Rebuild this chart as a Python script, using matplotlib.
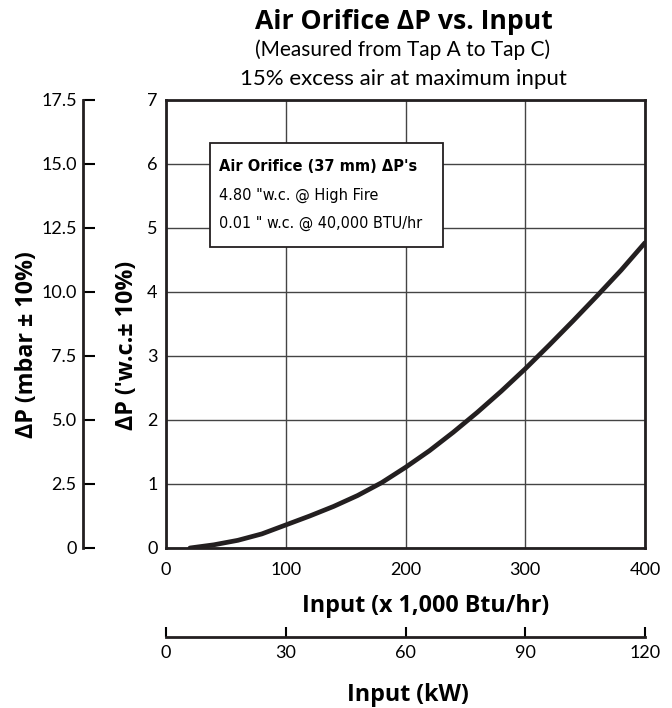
import os
import numpy as np
import matplotlib
matplotlib.use('Agg')
import matplotlib.pyplot as plt
from matplotlib import font_manager as fm
from matplotlib.patches import Rectangle

W, H = 672, 708

# 入力 (x 1,000 Btu/hr) と差圧 ("w.c.)
btu = [20, 40, 60, 80, 100, 120, 140, 160, 180, 200, 220, 240, 260, 280, 300, 320, 340, 360, 380, 400]
dp_wc = [0.0, 0.05, 0.12, 0.22, 0.36, 0.50, 0.65, 0.82, 1.02, 1.26, 1.52, 1.81, 2.12, 2.45,
         2.80, 3.17, 3.55, 3.94, 4.34, 4.77]

btu_ticks = [0, 100, 200, 300, 400]
wc_ticks = [0, 1, 2, 3, 4, 5, 6, 7]
mbar_ticks = [0, 2.5, 5.0, 7.5, 10.0, 12.5, 15.0, 17.5]
mbar_labels = ['0', '2.5', '5.0', '7.5', '10.0', '12.5', '15.0', '17.5']
kw_ticks = [0, 30, 60, 90, 120]

box_title = "Air Orifice (37 mm) ΔP's"
box_lines = ['4.80 "w.c. @ High Fire', '0.01 " w.c. @ 40,000 BTU/hr']

REG = ['Lato', 'DejaVu Sans']
BOLD = ['Open Sans', 'DejaVu Sans']
plt.rcParams['font.family'] = REG


def find_file(names):
    """インストール済みフォントからファイルを探す"""
    files = {os.path.basename(f.fname): f.fname for f in fm.fontManager.ttflist}
    for n in names:
        if n in files:
            return files[n]
    return None


# ボックス内は細長い書体 (無ければ通常書体)
nreg = find_file(['LiberationSansNarrow-Regular.ttf', 'NotoSans-Condensed.ttf',
                  'DejaVuSansCondensed.ttf', 'RobotoCondensed-Regular.ttf'])
nbold = find_file(['LiberationSansNarrow-Bold.ttf', 'NotoSans-CondensedBold.ttf',
                   'DejaVuSansCondensed-Bold.ttf', 'RobotoCondensed-Bold.ttf'])
fp_nreg = fm.FontProperties(fname=nreg) if nreg else fm.FontProperties(family=REG)
fp_nbold = fm.FontProperties(fname=nbold) if nbold else fm.FontProperties(family=REG, weight='bold')

fig = plt.figure(figsize=(W / 100, H / 100), dpi=100)


def px(x, y):
    """画像のピクセル座標 -> figure座標"""
    return x / W, 1 - y / H


def fit(t, target):
    """テキストの長さをピクセル幅に合わせる"""
    r = fig.canvas.get_renderer()
    for _ in range(3):
        bb = t.get_window_extent(r)
        t.set_fontsize(t.get_fontsize() * target / max(bb.width, bb.height))
    return t.get_fontsize()


L, R, T, B = 166, 645, 100, 548
ax = fig.add_axes([L / W, 1 - B / H, (R - L) / W, (B - T) / H])
ax.plot(btu, dp_wc, color='#231f20', lw=3.4, solid_capstyle='round')
ax.set_xlim(0, 400)
ax.set_ylim(0, 7)
ax.set_xticks(btu_ticks)
ax.set_yticks(wc_ticks)
ax.tick_params(length=0, labelsize=13)
ax.tick_params(axis='x', pad=10)
ax.tick_params(axis='y', pad=6)
ax.grid(True, color='#444444', lw=1)
for s in ax.spines.values():
    s.set_linewidth(2.0)
    s.set_color('#231f20')

# 注記ボックス
bx0, bx1, by0, by1 = 210, 443, 143, 247
ax.add_patch(Rectangle(((bx0 - L) / (R - L), (B - by1) / (B - T)),
                       (bx1 - bx0) / (R - L), (by1 - by0) / (B - T),
                       transform=ax.transAxes, facecolor='white',
                       edgecolor='#231f20', lw=1.3, zorder=5))
t = fig.text(*px(219, 171), box_title, fontproperties=fp_nbold, va='baseline', zorder=6)
t.set_fontsize(12)
fit(t, 198)
for txt, yb, w in zip(box_lines, [200, 228], [160, 203]):
    t = fig.text(*px(219, yb), txt, fontproperties=fp_nreg, va='baseline', zorder=6)
    t.set_fontsize(12)
    fit(t, w)

# mbar 軸
MX = 83
axm = fig.add_axes([MX / W, 1 - B / H, 0.0001, (B - T) / H])
axm.set_ylim(0, 17.5)
axm.set_yticks(mbar_ticks)
axm.set_yticklabels(mbar_labels)
axm.set_xticks([])
for k in ['top', 'right', 'bottom']:
    axm.spines[k].set_visible(False)
axm.spines['left'].set_linewidth(2.0)
axm.spines['left'].set_color('#231f20')
axm.tick_params(axis='y', direction='in', length=8.5, width=1.5, labelsize=13, pad=4.5)

# kW 軸
KY = 637
axk = fig.add_axes([L / W, 1 - KY / H, (R - L) / W, 0.0001])
axk.set_xlim(0, 120)
axk.set_xticks(kw_ticks)
axk.set_yticks([])
for k in ['top', 'right', 'left']:
    axk.spines[k].set_visible(False)
axk.spines['bottom'].set_linewidth(2.0)
axk.spines['bottom'].set_color('#231f20')
axk.tick_params(axis='x', direction='in', length=7, width=1.5, labelsize=13, pad=6)

# 軸ラベル (すべて同じ大きさ)
t = fig.text(*px(426, 612), 'Input (x 1,000 Btu/hr)', family=BOLD, fontweight='bold',
             fontsize=13, ha='center', va='baseline')
lab_size = fit(t, 247)
fig.text(*px(408, 701), 'Input (kW)', family=BOLD, fontweight='bold',
         fontsize=lab_size, ha='center', va='baseline')
fig.text(*px(127, 345), "ΔP ('w.c.± 10%)", family=BOLD, fontweight='bold',
         fontsize=lab_size, ha='center', va='center', rotation=90)
fig.text(*px(27, 345), 'ΔP (mbar ± 10%)', family=BOLD, fontweight='bold',
         fontsize=lab_size, ha='center', va='center', rotation=90)

# タイトル
t = fig.text(*px(404, 29), 'Air Orifice ΔP vs. Input', family=BOLD, fontweight='bold',
             fontsize=17, ha='center', va='baseline')
fit(t, 298)
t = fig.text(*px(403, 56), '(Measured from Tap A to Tap C)', fontsize=13,
             ha='center', va='baseline')
fit(t, 295)
t = fig.text(*px(403, 85), '15% excess air at maximum input', fontsize=13,
             ha='center', va='baseline')
fit(t, 328)

fig.savefig('out.png', dpi=100)
